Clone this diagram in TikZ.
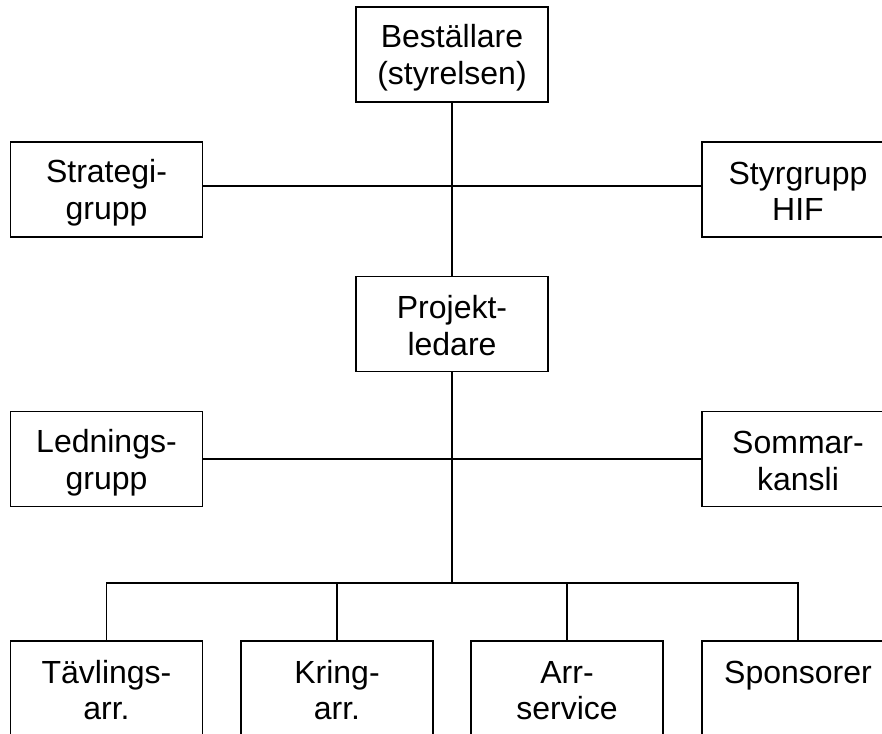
\documentclass[tikz,border=0pt]{standalone}
\usepackage{fontspec}
\setmainfont{Liberation Sans}
\newcommand{\lnstrut}{\rule[-4pt]{0pt}{34pt}}
\begin{document}
\begin{tikzpicture}[x=1pt,y=-1pt,
  box/.style={draw, line width=1.6pt, minimum width=192pt, minimum height=95pt,
    inner sep=0pt, align=center, font=\fontsize{32}{36.8}\selectfont},
  conn/.style={line width=1.6pt}]
\useasboundingbox (0,0) rectangle (882,733);
\fill[white] (0,0) rectangle (882,733);
\node[box] (best)  at (452,54.5)  {Beställare\lnstrut\\(styrelsen)\lnstrut};
\node[box] (strat) at (106.5,189.5) {Strategi-\lnstrut\\grupp\lnstrut};
\node[box] (styr)  at (798,189.5) {Styrgrupp\lnstrut\\HIF\lnstrut};
\node[box] (proj)  at (452,324)   {Projekt-\lnstrut\\ledare\lnstrut};
\node[box] (led)   at (106.5,459) {Lednings-\lnstrut\\grupp\lnstrut};
\node[box] (som)   at (798,459)   {Sommar-\lnstrut\\kansli\lnstrut};
\node[box] (tav)   at (106.5,688.5) {Tävlings-\lnstrut\\arr.\lnstrut};
\node[box] (kring) at (337,688.5) {Kring-\lnstrut\\arr.\lnstrut};
\node[box] (arr)   at (567,688.5) {Arr-\lnstrut\\service\lnstrut};
\node[box] (spons) at (798,688.5) {Sponsorer\lnstrut\\\lnstrut};
\coordinate (j1) at (452,186);
\coordinate (j2) at (452,459);
\coordinate (bus) at (452,583);
\draw[conn] (best.south) -- (proj.north);
\draw[conn] (strat.east |- j1) -- (styr.west |- j1);
\draw[conn] (led.east |- j2) -- (som.west |- j2);
\draw[conn] (proj.south) -- (bus);
\draw[conn] (tav.north) -- (tav.north |- bus) -- (spons.north |- bus) -- (spons.north);
\draw[conn] (kring.north) -- (kring.north |- bus);
\draw[conn] (arr.north) -- (arr.north |- bus);
\end{tikzpicture}
\end{document}
